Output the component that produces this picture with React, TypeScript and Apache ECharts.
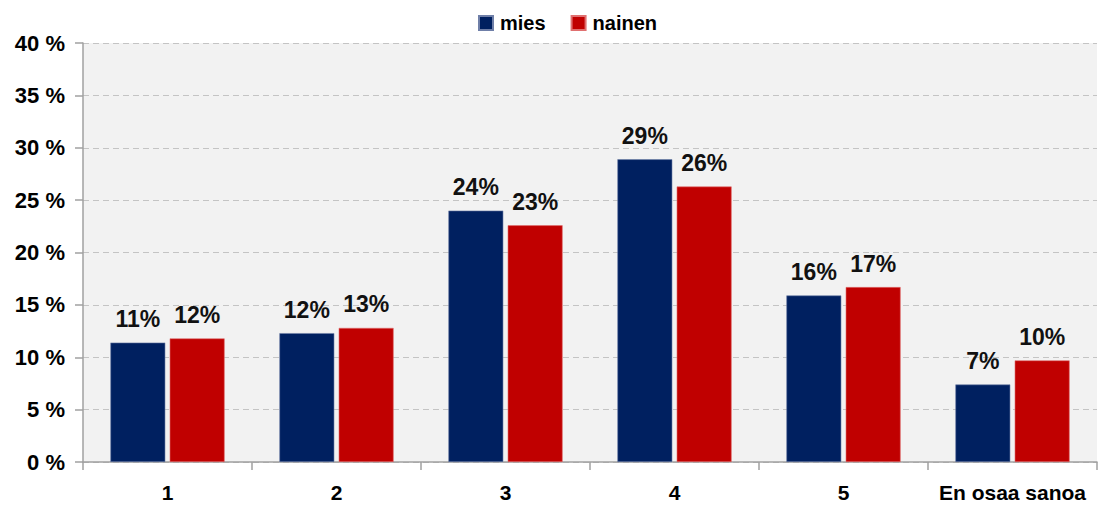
import React, { useEffect, useRef } from "react";
import * as echarts from "echarts";

const categories = ["1", "2", "3", "4", "5", "En osaa sanoa"];
const miesValues = [11.4, 12.3, 24.0, 28.9, 15.9, 7.4];
const nainenValues = [11.8, 12.8, 22.6, 26.3, 16.7, 9.7];
const seriesNames = ["mies", "nainen"];
const yTicks = { min: 0, max: 40, interval: 5 };

const FONT = "'Liberation Sans', Arial, sans-serif";

export default function App() {
  const ref = useRef<HTMLDivElement>(null);
  useEffect(() => {
    if (!ref.current) return;
    const chart = echarts.init(ref.current, null, { renderer: "svg" });
    const label = {
      show: true,
      position: "top",
      distance: 12,
      fontFamily: FONT,
      fontWeight: "bold",
      fontSize: 23,
      color: "#111",
      formatter: (p: any) => Math.round(p.value) + "%",
    };
    chart.setOption({
      animation: false,
      backgroundColor: "#ffffff",
      textStyle: { fontFamily: FONT },
      legend: {
        data: seriesNames,
        left: 473,
        top: 8,
        padding: 5,
        itemWidth: 14,
        itemHeight: 14,
        itemGap: 25,
        icon: "rect",
        textStyle: { fontFamily: FONT, fontWeight: "bold", fontSize: 20, color: "#000", padding: [0, 0, 0, 2] },
      },
      grid: {
        left: 83,
        right: 4,
        top: 43,
        bottom: 45,
        show: true,
        backgroundColor: "#f2f2f2",
        borderWidth: 0,
        containLabel: false,
      },
      xAxis: {
        type: "category",
        data: categories,
        boundaryGap: true,
        axisLine: { show: true, lineStyle: { color: "#a0a0a0", width: 1.5 } },
        axisTick: { show: true, alignWithLabel: false, interval: 0, length: 8, lineStyle: { color: "#a0a0a0", width: 1.5 } },
        axisLabel: { interval: 0, fontFamily: FONT, fontWeight: "bold", fontSize: 21, color: "#000", margin: 20 },
        splitLine: { show: false },
      },
      yAxis: {
        type: "value",
        min: yTicks.min,
        max: yTicks.max,
        interval: yTicks.interval,
        axisLine: { show: true, lineStyle: { color: "#a0a0a0", width: 1.5 } },
        axisTick: { show: true, length: 8, lineStyle: { color: "#a0a0a0", width: 1.5 } },
        axisLabel: {
          fontFamily: FONT,
          fontWeight: "bold",
          fontSize: 22,
          color: "#000",
          margin: 18,
          formatter: (v: number) => v + " %",
        },
        splitLine: { show: true, lineStyle: { color: "#c4c4c4", type: [6, 4], width: 1.2 } },
      },
      series: [
        {
          name: seriesNames[0],
          type: "bar",
          data: miesValues,
          barWidth: "32.5%",
          barGap: "8%",
          itemStyle: { color: "#002060", borderColor: "#6f7fa8", borderWidth: 0.6 },
          label,
        },
        {
          name: seriesNames[1],
          type: "bar",
          data: nainenValues,
          barWidth: "32.5%",
          barGap: "8%",
          itemStyle: { color: "#c00000", borderColor: "#e07070", borderWidth: 0.6 },
          label,
        },
      ],
    });
    return () => chart.dispose();
  }, []);
  return (
    <div
      ref={ref}
      style={{ position: "absolute", left: 0, top: 0, width: 1101, height: 507 }}
    />
  );
}
